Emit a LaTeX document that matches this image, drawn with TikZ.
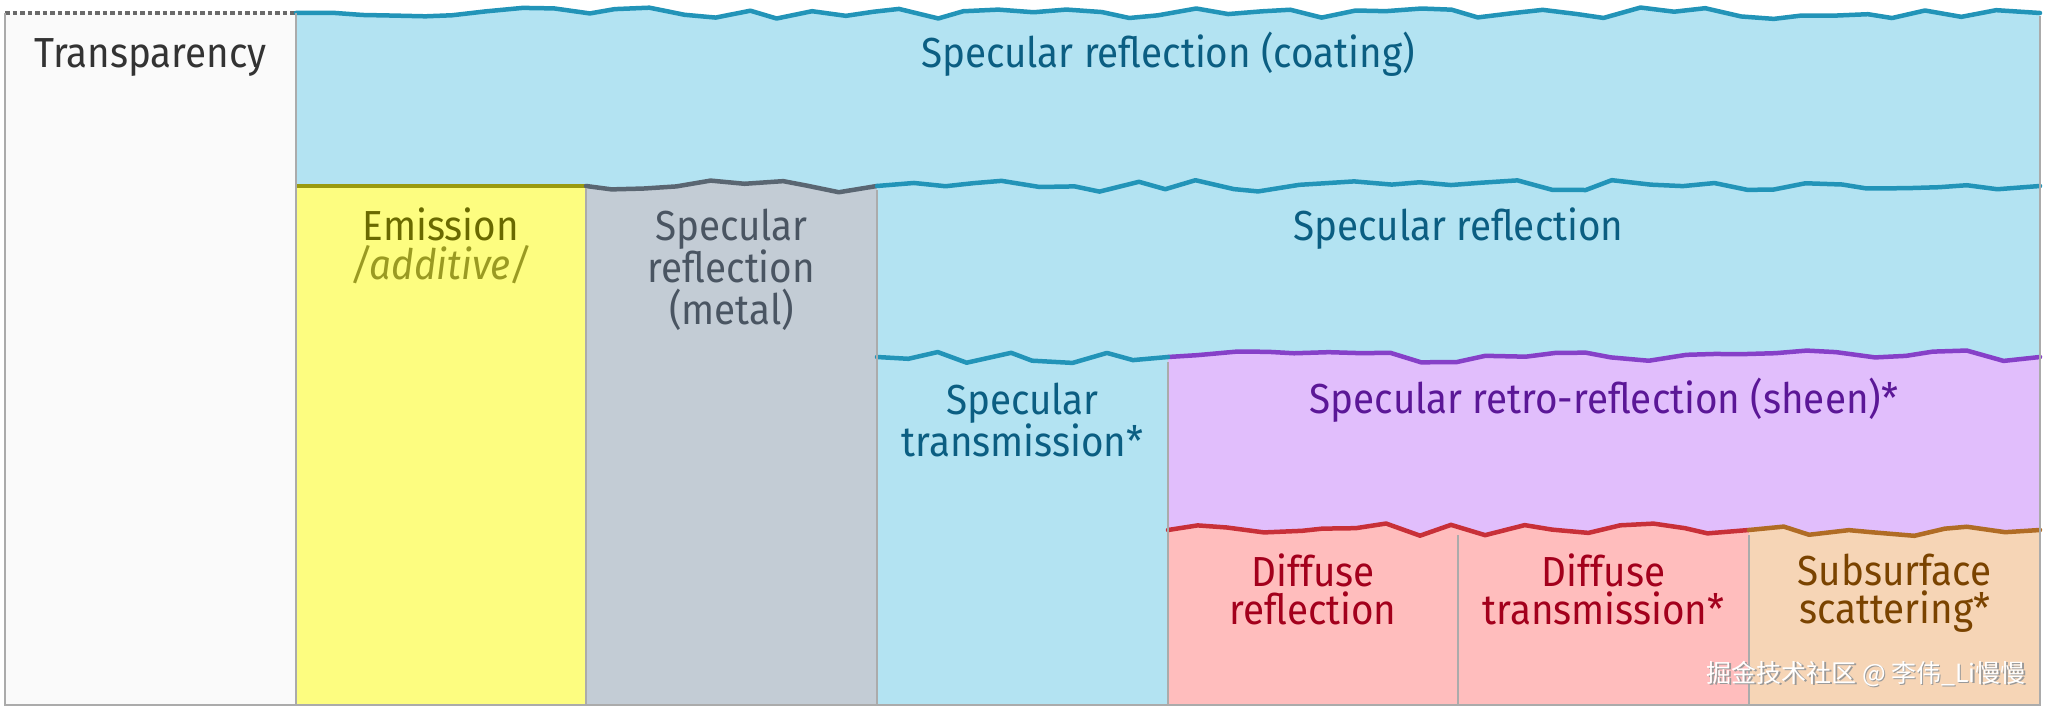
\documentclass[tikz,border=0pt]{standalone}
\usepackage{fontspec}
\setmainfont[FakeStretch=0.92]{Fira Sans}
\newfontfamily\cjk{Noto Sans CJK SC}
\usetikzlibrary{decorations.pathmorphing}
\definecolor{transfill}{HTML}{FAFAFA}
\definecolor{transtext}{HTML}{333333}
\definecolor{dashgray}{HTML}{6A6A6A}
\definecolor{bordergray}{HTML}{ABABAB}
\definecolor{specfill}{HTML}{B3E3F2}
\definecolor{specline}{HTML}{2294B8}
\definecolor{spectext}{HTML}{0B5E82}
\definecolor{emisfill}{HTML}{FDFD80}
\definecolor{emisline}{HTML}{9A9A10}
\definecolor{emistext}{HTML}{6A6A00}
\definecolor{addtext}{HTML}{9A9A22}
\definecolor{metalfill}{HTML}{C3CCD5}
\definecolor{metalline}{HTML}{5A6672}
\definecolor{metaltext}{HTML}{4A5562}
\definecolor{sheenfill}{HTML}{E1BEFC}
\definecolor{sheenline}{HTML}{8640C8}
\definecolor{sheentext}{HTML}{5B1797}
\definecolor{difffill}{HTML}{FFBDBD}
\definecolor{diffline}{HTML}{C83038}
\definecolor{difftext}{HTML}{A3001C}
\definecolor{subfill}{HTML}{F6D5B6}
\definecolor{subline}{HTML}{B06C25}
\definecolor{subtext}{HTML}{7A4300}
\newcommand\wavyregion[6]{%
  \pgfmathsetseed{#1}%
  \fill[#5, wavy] decorate {(#2,#4) -- (#3,#4)} -- (#3,705) -- (#2,705) -- cycle;
  \pgfmathsetseed{#1}%
  \draw[#6, edgeline, wavy] decorate {(#2,#4) -- (#3,#4)};
}
\begin{document}
\begin{tikzpicture}[x=1pt,y=-1pt,
  wavy/.style={decoration={random steps, segment length=32pt, amplitude=6.5pt}},
  edgeline/.style={line width=4.5pt, line join=round, line cap=round},
  sep/.style={draw=bordergray, line width=1.6pt},
  lbl/.style={align=center, inner sep=0pt, font=\fontsize{42}{42}\selectfont},
  lbla/.style={align=center, inner sep=0pt, font=\fontsize{42}{39}\selectfont},
  lblb/.style={align=center, inner sep=0pt, font=\fontsize{42}{38}\selectfont}]
\useasboundingbox (0,0) rectangle (2046,708);
\fill[white] (0,0) rectangle (2046,708);
% transparency column
\fill[transfill] (5,13) rectangle (296,705);
\draw[dashgray, line width=3.5pt, dash pattern=on 4.5pt off 3pt] (5,13) -- (296,13);
% regions
\wavyregion{11}{296}{2040}{13}{specfill}{specline}
\fill[emisfill] (296,186) rectangle (586,705);
\draw[emisline, line width=4.5pt] (296,186) -- (586,186);
\wavyregion{23}{586}{877}{186}{metalfill}{metalline}
\wavyregion{37}{877}{2040}{186}{specfill}{specline}
\wavyregion{41}{1168}{2040}{357}{sheenfill}{sheenline}
\wavyregion{53}{877}{1168}{357}{specfill}{specline}
\wavyregion{67}{1168}{1749}{530}{difffill}{diffline}
\wavyregion{71}{1749}{2040}{530}{subfill}{subline}
% separators and border
\draw[sep] (296,13) -- (296,705);
\draw[sep] (586,188) -- (586,705);
\draw[sep] (877,190) -- (877,705);
\draw[sep] (1168,362) -- (1168,705);
\draw[sep] (1458,535) -- (1458,705);
\draw[sep] (1749,535) -- (1749,705);
\draw[sep] (5,13) -- (5,705) -- (2040,705) -- (2040,16);
% labels
\node[lbl, text=transtext] (trans) at (150.5,58) {Transparency};
\node[lbl, text=spectext] (coat) at (1168,54) {Specular reflection (coating)};
\node[lbla, text=emistext] (emis) at (441,246) {Emission\\\textcolor{addtext}{\itshape /additive/}};
\node[lbl, text=metaltext] (metal) at (731.5,270) {Specular\\reflection\\(metal)};
\node[lbl, text=spectext] (specrefl) at (1458.5,229) {Specular reflection};
\node[lbl, text=spectext] (spectrans) at (1022.5,420) {Specular\\transmission*};
\node[lbl, text=sheentext] (sheen) at (1604,400) {Specular retro-reflection (sheen)*};
\node[lblb, text=difftext] (diffr) at (1313,589) {Diffuse\\reflection};
\node[lblb, text=difftext] (difft) at (1603.5,589) {Diffuse\\transmission*};
\node[lblb, text=subtext] (subs) at (1894.5,593) {Subsurface\\scattering*};
\node[font=\cjk\fontsize{25}{25}\selectfont, text=gray!80, anchor=east, inner sep=0pt] (wmshadow) at (2027.5,675.5) {掘金技术社区 @ 李伟\_Li慢慢};
\node[font=\cjk\fontsize{25}{25}\selectfont, text=white, anchor=east, inner sep=0pt] (wm) at (2026,674) {掘金技术社区 @ 李伟\_Li慢慢};
\end{tikzpicture}
\end{document}
